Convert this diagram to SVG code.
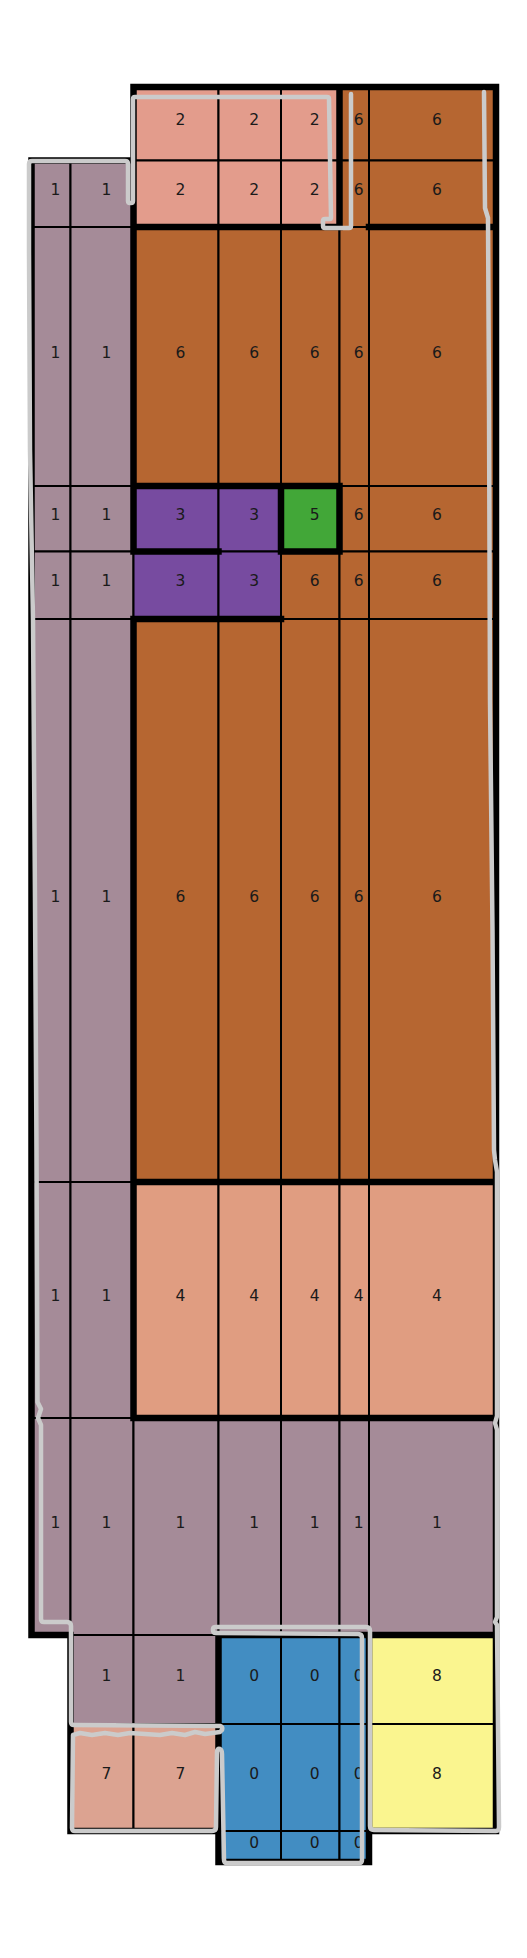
<svg xmlns="http://www.w3.org/2000/svg" width="527" height="1958" viewBox="0 0 527 1958">
<style>
.c{stroke:#000;stroke-width:2}
.m{fill:#a58b98}.s{fill:#e39c8c}.br{fill:#b66631}.p{fill:#774ba0}.gr{fill:#42a738}.pe{fill:#e09d81}.bl{fill:#428dc2}.y{fill:#faf58f}.r7{fill:#dca391}
text{font-family:"DejaVu Sans","Liberation Sans",sans-serif;font-size:15.5px;text-anchor:middle;fill:#1a1a1a}
.thick{stroke:#000;stroke-width:6.5;stroke-linecap:square;fill:none}
.sk{stroke:#cbcbcb;stroke-width:4.5;fill:none;stroke-linejoin:round;stroke-linecap:round}
</style>
<rect width="527" height="1958" fill="#fff"/>
<g id="region-2">
<rect class="c s" x="133.5" y="87" width="85" height="73.5"/><rect class="c s" x="218.5" y="87" width="62.5" height="73.5"/><rect class="c s" x="281" y="87" width="58.5" height="73.5"/>
<rect class="c s" x="133.5" y="160.5" width="85" height="66.5"/><rect class="c s" x="218.5" y="160.5" width="62.5" height="66.5"/><rect class="c s" x="281" y="160.5" width="58.5" height="66.5"/>
<text x="180.5" y="124.75">2</text><text x="254.25" y="124.75">2</text><text x="314.75" y="124.75">2</text>
<text x="180.5" y="194.75">2</text><text x="254.25" y="194.75">2</text><text x="314.75" y="194.75">2</text>
</g>
<g id="region-6-top">
<rect class="c br" x="339.5" y="87" width="29.5" height="73.5"/><rect class="c br" x="369" y="87" width="127" height="73.5"/>
<rect class="c br" x="339.5" y="160.5" width="29.5" height="66.5"/><rect class="c br" x="369" y="160.5" width="127" height="66.5"/>
<text x="358.75" y="124.75">6</text><text x="437" y="124.75">6</text>
<text x="358.75" y="194.75">6</text><text x="437" y="194.75">6</text>
</g>
<g id="region-1">
<rect class="c m" x="31.5" y="160.5" width="39" height="66.5"/><rect class="c m" x="70.5" y="160.5" width="63" height="66.5"/>
<rect class="c m" x="31.5" y="227" width="39" height="259"/><rect class="c m" x="70.5" y="227" width="63" height="259"/>
<rect class="c m" x="31.5" y="486" width="39" height="65.5"/><rect class="c m" x="70.5" y="486" width="63" height="65.5"/>
<rect class="c m" x="31.5" y="551.5" width="39" height="67.5"/><rect class="c m" x="70.5" y="551.5" width="63" height="67.5"/>
<rect class="c m" x="31.5" y="619" width="39" height="563"/><rect class="c m" x="70.5" y="619" width="63" height="563"/>
<rect class="c m" x="31.5" y="1182" width="39" height="236"/><rect class="c m" x="70.5" y="1182" width="63" height="236"/>
<rect class="c m" x="31.5" y="1418" width="39" height="217"/><rect class="c m" x="70.5" y="1418" width="63" height="217"/><rect class="c m" x="133.5" y="1418" width="85" height="217"/><rect class="c m" x="218.5" y="1418" width="62.5" height="217"/><rect class="c m" x="281" y="1418" width="58.5" height="217"/><rect class="c m" x="339.5" y="1418" width="29.5" height="217"/><rect class="c m" x="369" y="1418" width="127" height="217"/>
<rect class="c m" x="70.5" y="1635" width="63" height="89"/><rect class="c m" x="133.5" y="1635" width="85" height="89"/>
<text x="55.5" y="194.75">1</text><text x="106.5" y="194.75">1</text>
<text x="55.5" y="357.5">1</text><text x="106.5" y="357.5">1</text>
<text x="55.5" y="519.75">1</text><text x="106.5" y="519.75">1</text>
<text x="55.5" y="586.25">1</text><text x="106.5" y="586.25">1</text>
<text x="55.5" y="901.5">1</text><text x="106.5" y="901.5">1</text>
<text x="55.5" y="1301">1</text><text x="106.5" y="1301">1</text>
<text x="55.5" y="1527.5">1</text><text x="106.5" y="1527.5">1</text><text x="180.5" y="1527.5">1</text><text x="254.25" y="1527.5">1</text><text x="314.75" y="1527.5">1</text><text x="358.75" y="1527.5">1</text><text x="437" y="1527.5">1</text>
<text x="106.5" y="1680.5">1</text><text x="180.5" y="1680.5">1</text>
</g>
<g id="region-6">
<rect class="c br" x="133.5" y="227" width="85" height="259"/><rect class="c br" x="218.5" y="227" width="62.5" height="259"/><rect class="c br" x="281" y="227" width="58.5" height="259"/><rect class="c br" x="339.5" y="227" width="29.5" height="259"/><rect class="c br" x="369" y="227" width="127" height="259"/>
<rect class="c br" x="339.5" y="486" width="29.5" height="65.5"/><rect class="c br" x="369" y="486" width="127" height="65.5"/>
<rect class="c br" x="281" y="551.5" width="58.5" height="67.5"/><rect class="c br" x="339.5" y="551.5" width="29.5" height="67.5"/><rect class="c br" x="369" y="551.5" width="127" height="67.5"/>
<rect class="c br" x="133.5" y="619" width="85" height="563"/><rect class="c br" x="218.5" y="619" width="62.5" height="563"/><rect class="c br" x="281" y="619" width="58.5" height="563"/><rect class="c br" x="339.5" y="619" width="29.5" height="563"/><rect class="c br" x="369" y="619" width="127" height="563"/>
<text x="180.5" y="357.5">6</text><text x="254.25" y="357.5">6</text><text x="314.75" y="357.5">6</text><text x="358.75" y="357.5">6</text><text x="437" y="357.5">6</text>
<text x="358.75" y="519.75">6</text><text x="437" y="519.75">6</text>
<text x="314.75" y="586.25">6</text><text x="358.75" y="586.25">6</text><text x="437" y="586.25">6</text>
<text x="180.5" y="901.5">6</text><text x="254.25" y="901.5">6</text><text x="314.75" y="901.5">6</text><text x="358.75" y="901.5">6</text><text x="437" y="901.5">6</text>
</g>
<g id="region-3">
<rect class="c p" x="133.5" y="486" width="85" height="65.5"/><rect class="c p" x="218.5" y="486" width="62.5" height="65.5"/>
<rect class="c p" x="133.5" y="551.5" width="85" height="67.5"/><rect class="c p" x="218.5" y="551.5" width="62.5" height="67.5"/>
<text x="180.5" y="519.75">3</text><text x="254.25" y="519.75">3</text>
<text x="180.5" y="586.25">3</text><text x="254.25" y="586.25">3</text>
</g>
<g id="region-5">
<rect class="c gr" x="281" y="486" width="58.5" height="65.5"/>
<text x="314.75" y="519.75">5</text>
</g>
<g id="region-4">
<rect class="c pe" x="133.5" y="1182" width="85" height="236"/><rect class="c pe" x="218.5" y="1182" width="62.5" height="236"/><rect class="c pe" x="281" y="1182" width="58.5" height="236"/><rect class="c pe" x="339.5" y="1182" width="29.5" height="236"/><rect class="c pe" x="369" y="1182" width="127" height="236"/>
<text x="180.5" y="1301">4</text><text x="254.25" y="1301">4</text><text x="314.75" y="1301">4</text><text x="358.75" y="1301">4</text><text x="437" y="1301">4</text>
</g>
<g id="region-0">
<rect class="c bl" x="218.5" y="1635" width="62.5" height="89"/><rect class="c bl" x="281" y="1635" width="58.5" height="89"/><rect class="c bl" x="339.5" y="1635" width="29.5" height="89"/>
<rect class="c bl" x="218.5" y="1724" width="62.5" height="107"/><rect class="c bl" x="281" y="1724" width="58.5" height="107"/><rect class="c bl" x="339.5" y="1724" width="29.5" height="107"/>
<rect class="c bl" x="218.5" y="1831" width="62.5" height="31"/><rect class="c bl" x="281" y="1831" width="58.5" height="31"/><rect class="c bl" x="339.5" y="1831" width="29.5" height="31"/>
<text x="254.25" y="1680.5">0</text><text x="314.75" y="1680.5">0</text><text x="358.75" y="1680.5">0</text>
<text x="254.25" y="1778.5">0</text><text x="314.75" y="1778.5">0</text><text x="358.75" y="1778.5">0</text>
<text x="254.25" y="1847.5">0</text><text x="314.75" y="1847.5">0</text><text x="358.75" y="1847.5">0</text>
</g>
<g id="region-7">
<rect class="c r7" x="70.5" y="1724" width="63" height="107"/><rect class="c r7" x="133.5" y="1724" width="85" height="107"/>
<text x="106.5" y="1778.5">7</text><text x="180.5" y="1778.5">7</text>
</g>
<g id="region-8">
<rect class="c y" x="369" y="1635" width="127" height="89"/><rect class="c y" x="369" y="1724" width="127" height="107"/>
<text x="437" y="1680.5">8</text><text x="437" y="1778.5">8</text>
</g>
<g id="boundaries">
<path class="thick" d="M133.5 87H496 M133.5 87V551.5 M133.5 619V1418 M339.5 87V227 M133.5 227H339.5 M369 227H496 M31.5 160.5H133.5 M31.5 160.5V1635 M496 87V1831 M133.5 486H339.5 M281 486V551.5 M339.5 486V551.5 M133.5 551.5H218.5 M281 551.5H339.5 M133.5 619H281 M133.5 1182H496 M133.5 1418H496 M31.5 1635H70.5 M70.5 1635V1831 M70.5 1831H218.5 M218.5 1635H496 M218.5 1635V1862 M218.5 1862H369 M369 1635V1862 M369 1831H496"/>
</g>
<g id="connectors">
<path class="sk" d="M351 94 L351 226 Q351 228 349 228 L325 228 Q323 228 323 226 L323 221 Q323 219 325 219 L330 219 Q331 219 331 217 L329 99 Q329 97 327 97 L135 97 Q133 97 133 99 L133 201 Q133 203 131 203 L130 203 Q128 203 128 201 L128 164 Q128 161 125 161 L32 161 Q29 161 29 164 L29 250 L30 450 L33 620 L35 900 L36.5 1150 L37.5 1402 L41 1409 L38 1418 L41 1425 L41 1500 L41 1619 Q41 1622 44 1622 L67 1622 Q71 1622 71 1626 L71 1722 Q71 1725 74 1725 L220 1726 Q223 1727 222 1730 L220 1732 L205 1734 L195 1732 L185 1735 L172 1733 L160 1735 L145 1734 L130 1733 L118 1735 L105 1733 L92 1735 L80 1733 L73 1735 L72 1828 Q72 1831 75 1831 L212 1831 Q216 1831 216 1827 L217 1752 Q217 1748 220 1749 Q222 1750 222 1754 L224 1860 Q224 1863 227 1863 L359 1863 Q362 1863 362 1860 L362 1638 Q362 1634 358 1634 L216 1633 Q213 1633 213 1630 L213 1629 Q213 1627 216 1627 L366 1627 Q370 1627 370 1631 L370 1826 Q370 1830 374 1830 L496 1831 Q499 1831 499 1827 L497 1625 L495 1622 L497 1617 L497 1430 L495 1423 L497 1416 L497 1172 L495 1160 L494 1150 L492.5 930 L490 700 L489 400 L488 218 L485 208 L484 92"/>
</g>
</svg>
